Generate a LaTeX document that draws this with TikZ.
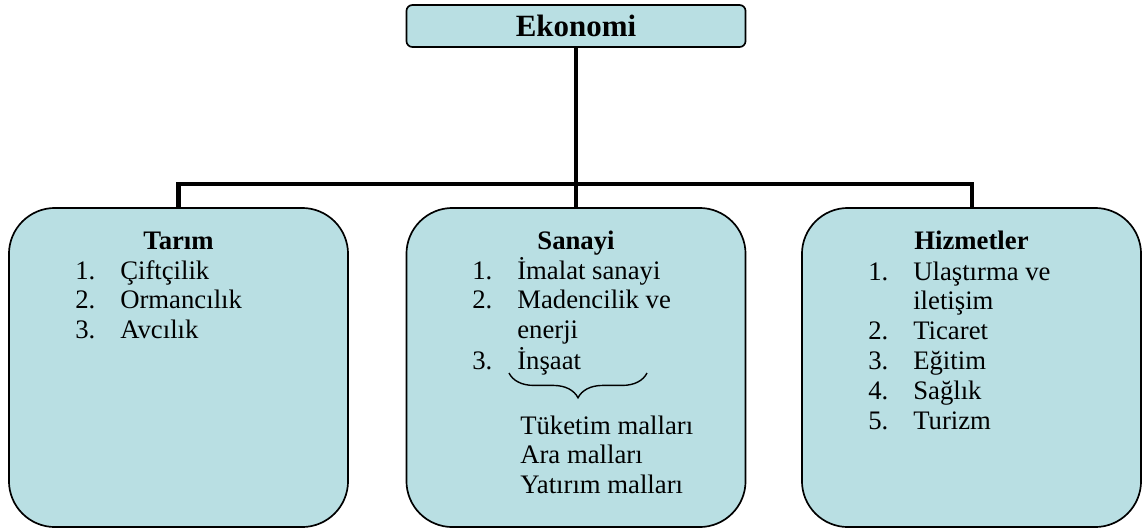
\documentclass[tikz,border=0pt]{standalone}
\usepackage{fontspec}
\setmainfont{Liberation Serif}
\usetikzlibrary{decorations.pathreplacing}
\definecolor{kutumavi}{RGB}{185,223,227}
\tikzset{
  anakutu/.style={draw, line width=1.2pt, fill=kutumavi, rounded corners=0.15cm,
    minimum width=8.475cm, minimum height=1.05cm, inner sep=0pt, outer sep=0pt,
    font=\bfseries\fontsize{22}{24}\selectfont},
  kutu/.style={draw, line width=1.2pt, fill=kutumavi, rounded corners=1.15cm,
    minimum width=8.475cm, minimum height=7.975cm, inner sep=0pt, outer sep=0pt},
  baslik/.style={anchor=base, inner sep=0pt, font=\bfseries\fontsize{19}{21.3}\selectfont},
  liste/.style={anchor=base west, inner sep=0pt, font=\fontsize{19}{21.3}\selectfont},
  bag/.style={line width=2.85pt}
}
\begin{document}
\begin{tikzpicture}[x=0.025cm, y=-0.025cm]
      \useasboundingbox (0,0) rectangle (1143,528);
      % kutular
      \node[anakutu] (eko) at (576,26) {Ekonomi};
      \node[kutu] (tarim) at (178.5,367.5) {};
      \node[kutu] (sanayi) at (576,367.5) {};
      \node[kutu] (hizmet) at (971.5,367.5) {};
      % baglantilar
      \coordinate (orta) at (576,184);
      \draw[bag] (eko) -- (orta);
      \draw[bag] (tarim.north) |- (orta) -| (hizmet.north);
      \draw[bag] (orta) -- (sanayi.north);
      % Tarim
      \node[baslik] (tarimbaslik) at (178.5,249) {Tarım};
      \node[liste] (tarimliste) at (75,279) {\begin{tabular}[t]{@{}p{1.125cm}@{}l@{}}
        1. & Çiftçilik\\
        2. & Ormancılık\\
        3. & Avcılık
      \end{tabular}};
      % Sanayi
      \node[baslik] (sanayibaslik) at (576,249) {Sanayi};
      \node[liste] (sanayiliste) at (472,279) {\begin{tabular}[t]{@{}p{1.125cm}@{}l@{}}
        1. & İmalat sanayi\\
        2. & Madencilik ve\\
           & enerji\\
        3. & İnşaat
      \end{tabular}};
      \draw[decorate, decoration={brace, mirror, amplitude=0.62cm}, line width=1pt]
        (509,373) -- (647,373);
      \node[liste] (mallar) at (520,434) {\begin{tabular}[t]{@{}l@{}}
        Tüketim malları\\
        Ara malları\\
        Yatırım malları
      \end{tabular}};
      % Hizmetler
      \node[baslik] (hizmetbaslik) at (971.5,249) {Hizmetler};
      \node[liste] (hizmetliste) at (868,280) {\begin{tabular}[t]{@{}p{1.125cm}@{}l@{}}
        1. & Ulaştırma ve\\
           & iletişim\\
        2. & Ticaret\\
        3. & Eğitim\\
        4. & Sağlık\\
        5. & Turizm
      \end{tabular}};
    \end{tikzpicture}
\end{document}
